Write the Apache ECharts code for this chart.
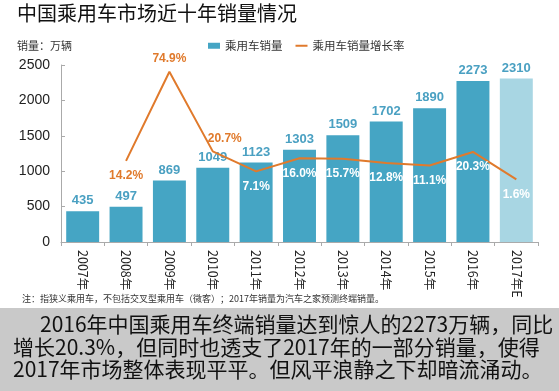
<!DOCTYPE html>
<html><head><meta charset="utf-8">
<script src="https://cdn.jsdelivr.net/npm/echarts@6/dist/echarts.min.js"></script>
<style>html,body{margin:0;padding:0;background:#fff;}#c{width:559px;height:391px;}</style>
</head><body><div id="c"></div>
<script>
const categories = ['2007年','2008年','2009年','2010年','2011年','2012年','2013年','2014年','2015年','2016年','2017年E'];
const sales = [435, 497, 869, 1049, 1123, 1303, 1509, 1702, 1890, 2273, 2310];
const growth = [null, 14.2, 74.9, 20.7, 7.1, 16.0, 15.7, 12.8, 11.1, 20.3, 1.6];
const yTicks = [0, 500, 1000, 1500, 2000, 2500];
const FONT = '"Noto Sans CJK SC", "Noto Sans", sans-serif';
const BAR = '#45a5c4', BAR_E = '#a8d6e3', ORANGE = '#e07a2c';

const barData = sales.map((v, i) => i === sales.length - 1 ? {value: v, itemStyle: {color: BAR_E}} : v);
const lineData = growth.map((v, i) => {
  if (v === null) return null;
  const orange = (i === 1 || i === 2 || i === 3);
  const pos = (i === 2 || i === 3) ? 'top' : 'bottom';
  const lab = {show: true, position: pos, color: orange ? ORANGE : '#ffffff', distance: pos === 'top' ? 7 : 9};
  if (i === 3) lab.offset = [12, 0];
  return {value: v, label: lab};
});

const chart = echarts.init(document.getElementById('c'));
chart.setOption({
  animation: false,
  textStyle: {fontFamily: FONT},
  grid: {left: 61, right: 21, top: 65, bottom: 149},
  legend: {
    left: 203, top: 35, itemGap: 12, itemWidth: 12, itemHeight: 6,
    textStyle: {fontSize: 11.5, color: '#333', fontFamily: FONT},
    data: [{name: '乘用车销量', icon: 'rect'}, {name: '乘用车销量增长率', itemStyle: {opacity: 0}}]
  },
  xAxis: {
    type: 'category', data: categories,
    axisLine: {lineStyle: {color: '#aaa'}},
    axisTick: {show: true, lineStyle: {color: '#aaa'}, length: 4},
    axisLabel: {rotate: -90, color: '#222', fontSize: 12.5, margin: 8, fontFamily: FONT}
  },
  yAxis: [{
    type: 'value', min: yTicks[0], max: yTicks[yTicks.length - 1], interval: 500,
    axisLine: {show: true, lineStyle: {color: '#aaa'}},
    axisTick: {show: true, inside: true, length: 4, lineStyle: {color: '#aaa'}},
    splitLine: {show: false},
    axisLabel: {color: '#222', fontSize: 14, margin: 11, fontFamily: 'Liberation Sans, sans-serif', formatter: v => String(v)}
  }, {
    type: 'value', min: -41, max: 79.5, show: false, splitLine: {show: false}
  }],
  series: [{
    name: '乘用车销量', type: 'bar', data: barData, barCategoryGap: '24%',
    itemStyle: {color: BAR},
    label: {show: true, position: 'top', color: '#4aa0c2', fontSize: 13, fontWeight: 'bold', distance: 4, fontFamily: 'Liberation Sans, sans-serif'}
  }, {
    name: '乘用车销量增长率', type: 'line', yAxisIndex: 1, data: lineData,
    symbol: 'circle', symbolSize: 0.01, showSymbol: true, connectNulls: false,
    lineStyle: {color: ORANGE, width: 2}, itemStyle: {color: ORANGE},
    label: {show: true, fontSize: 12, fontWeight: 'bold', fontFamily: 'Liberation Sans, sans-serif',
      formatter: p => p.value.toFixed(1) + '%'}
  }],
  graphic: [
    {type: 'text', left: 17, top: 3, style: {text: '中国乘用车市场近十年销量情况', fontSize: 20, fill: '#111', fontFamily: FONT}},
    {type: 'text', left: 17, top: 40, style: {text: '销量：万辆', fontSize: 11, fill: '#333', fontFamily: FONT}},
    {type: 'text', left: 22, top: 294, style: {text: '注：指狭义乘用车，不包括交叉型乘用车（微客）；2017年销量为汽车之家预测终端销量。', fontSize: 9, fill: '#333', fontFamily: FONT}},
    {type: 'rect', shape: {x: 0, y: 308, width: 559, height: 83}, style: {fill: '#c9c9c9'}},
    {type: 'text', left: 40, top: 314, style: {text: '2016年中国乘用车终端销量达到惊人的2273万辆，同比', fontSize: 21, fill: '#111', fontFamily: FONT}},
    {type: 'text', left: 13, top: 337, style: {text: '增长20.3%，但同时也透支了2017年的一部分销量，使得', fontSize: 21, fill: '#111', fontFamily: FONT}},
    {type: 'text', left: 13, top: 359, style: {text: '2017年市场整体表现平平。但风平浪静之下却暗流涌动。', fontSize: 21, fill: '#111', fontFamily: FONT}}
  ]
});
</script></body></html>
